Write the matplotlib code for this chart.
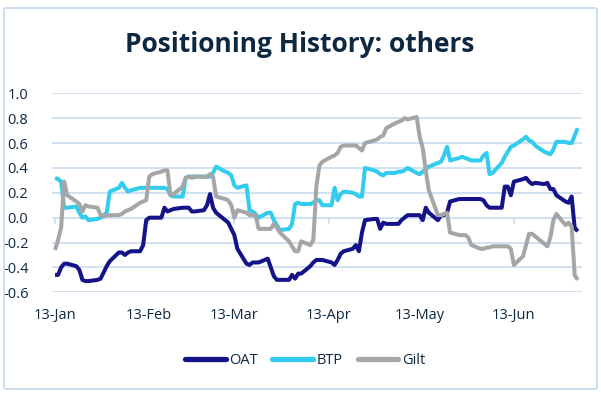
import matplotlib
matplotlib.use("Agg")
import matplotlib.pyplot as plt
from matplotlib.patches import FancyBboxPatch
import pandas as pd

# ---- data (business days, 13-Jan-2025 .. 04-Jul-2025) ----
start_date = "2025-01-13"
end_date = "2025-07-04"

oat = [
    -0.46, -0.46, -0.40, -0.37, -0.37,
    -0.39, -0.42, -0.50, -0.51, -0.51,
    -0.50, -0.49, -0.44, -0.39, -0.35,
    -0.28, -0.28, -0.30, -0.28, -0.27,
    -0.27, -0.22, -0.02, 0.00, 0.00,
    0.00, 0.08, 0.05, 0.06, 0.07,
    0.08, 0.08, 0.08, 0.05, 0.05,
    0.06, 0.10, 0.19, 0.08, 0.04,
    -0.02, -0.04, -0.09, -0.14, -0.25,
    -0.37, -0.38, -0.36, -0.36, -0.36,
    -0.33, -0.40, -0.47, -0.50, -0.50,
    -0.50, -0.46, -0.49, -0.45, -0.45,
    -0.39, -0.36, -0.34, -0.34, -0.34,
    -0.36, -0.38, -0.34, -0.29, -0.27,
    -0.25, -0.22, -0.27, -0.12, -0.02,
    -0.01, -0.01, -0.09, -0.04, -0.05,
    -0.05, -0.05, -0.02, 0.00, 0.02,
    0.02, 0.02, -0.02, 0.08, 0.04,
    -0.02, 0.02, 0.02, 0.04, 0.13,
    0.15, 0.15, 0.15, 0.15, 0.15,
    0.15, 0.14, 0.10, 0.08, 0.08,
    0.08, 0.25, 0.25, 0.18, 0.29,
    0.31, 0.32, 0.29, 0.27, 0.28,
    0.27, 0.28, 0.23, 0.23, 0.18,
    0.13, 0.12, 0.17, -0.08, -0.11,
]

btp = [
    0.32, 0.31, 0.29, 0.08, 0.08,
    0.09, 0.04, 0.00, 0.01, -0.02,
    -0.01, 0.00, 0.02, 0.04, 0.21,
    0.24, 0.28, 0.24, 0.21, 0.22,
    0.24, 0.24, 0.24, 0.24, 0.24,
    0.24, 0.24, 0.23, 0.18, 0.17,
    0.17, 0.32, 0.33, 0.33, 0.33,
    0.33, 0.33, 0.33, 0.36, 0.41,
    0.37, 0.36, 0.34, 0.26, 0.24,
    0.26, 0.06, 0.05, 0.03, 0.00,
    0.04, 0.04, -0.02, -0.06, -0.10,
    -0.09, -0.05, 0.11, 0.12, 0.11,
    0.11, 0.12, 0.14, 0.14, 0.10,
    0.10, 0.24, 0.14, 0.19, 0.21,
    0.20, 0.19, 0.17, 0.17, 0.40,
    0.38, 0.37, 0.35, 0.34, 0.36,
    0.36, 0.37, 0.37, 0.38, 0.40,
    0.36, 0.35, 0.37, 0.39, 0.41,
    0.44, 0.45, 0.50, 0.57, 0.46,
    0.48, 0.49, 0.48, 0.47, 0.46,
    0.46, 0.50, 0.52, 0.35, 0.36,
    0.44, 0.49, 0.53, 0.57, 0.58,
    0.63, 0.65, 0.62, 0.61, 0.58,
    0.53, 0.52, 0.51, 0.55, 0.61,
    0.61, 0.60, 0.60, 0.66, 0.72,
]

gilt = [
    -0.26, -0.18, -0.08, 0.29, 0.18,
    0.13, 0.11, 0.05, 0.10, 0.09,
    0.08, 0.02, 0.01, 0.02, 0.02,
    0.02, 0.03, 0.05, 0.06, 0.07,
    0.12, 0.13, 0.14, 0.33, 0.35,
    0.37, 0.38, 0.38, 0.18, 0.19,
    0.25, 0.32, 0.33, 0.32, 0.33,
    0.33, 0.33, 0.35, 0.33, 0.17,
    0.15, 0.14, 0.10, 0.00, 0.06,
    0.04, 0.02, 0.02, 0.02, -0.09,
    -0.09, -0.09, -0.05, -0.08, -0.12,
    -0.19, -0.23, -0.27, -0.27, -0.19,
    -0.22, -0.18, 0.25, 0.42, 0.45,
    0.49, 0.50, 0.52, 0.57, 0.58,
    0.58, 0.58, 0.56, 0.54, 0.60,
    0.62, 0.63, 0.65, 0.66, 0.72,
    0.76, 0.77, 0.78, 0.80, 0.79,
    0.81, 0.65, 0.56, 0.38, 0.22,
    0.02, 0.02, 0.03, 0.04, -0.12,
    -0.14, -0.14, -0.14, -0.16, -0.22,
    -0.25, -0.25, -0.24, -0.24, -0.23,
    -0.23, -0.23, -0.23, -0.25, -0.38,
    -0.31, -0.22, -0.13, -0.13, -0.15,
    -0.21, -0.23, -0.16, -0.02, 0.03,
    -0.06, -0.04, -0.07, -0.46, -0.50,
]

series_names = ["OAT", "BTP", "Gilt"]
tick_dates = ["2025-01-13", "2025-02-13", "2025-03-13",
              "2025-04-13", "2025-05-13", "2025-06-13"]
y_ticks = [-0.6, -0.4, -0.2, 0.0, 0.2, 0.4, 0.6, 0.8, 1.0]
title = "Positioning History: others"

# ---- styling ----
colors = ["#141488", "#33CCEE", "#A6A6A6"]
grid_col = "#C9DBF0"
text_col = "#0E2841"
plt.rcParams["font.family"] = ["Open Sans", "DejaVu Sans"]

dates = pd.bdate_range(start_date, end_date)

fig = plt.figure(figsize=(6.01, 3.93), dpi=100)
fig.patch.set_facecolor("white")

# outer border
border = FancyBboxPatch((4 / 601, 4 / 393), 593 / 601, 381 / 393,
                        boxstyle="round,pad=0,rounding_size=0.004",
                        transform=fig.transFigure, facecolor="none",
                        edgecolor=grid_col, linewidth=1.3)
fig.patches.append(border)

ax = fig.add_axes([52 / 601, 1 - 292.3 / 393, 530 / 601, (292.3 - 93.3) / 393])
ymin, ymax = -0.6, 1.0
ax.set_ylim(ymin, ymax)
ax.set_xlim(pd.Timestamp("2025-01-12"), pd.Timestamp("2025-07-05 10:00"))

for vals, name, c in zip([oat, btp, gilt], series_names, colors):
    ax.plot(dates, vals, color=c, lw=2.9, label=name, solid_joinstyle="round",
            solid_capstyle="butt", zorder=3)

ax.set_yticks(y_ticks)
ax.set_yticklabels([f"{v:.1f}" for v in y_ticks])
ax.grid(axis="y", color=grid_col, lw=1.2, zorder=0)
ax.grid(axis="x", visible=False)
for s in ax.spines.values():
    s.set_visible(False)

xt = [pd.Timestamp(d) for d in tick_dates]
ax.set_xticks(xt)
ax.set_xticklabels([d.strftime("%d-%b") for d in xt])
ax.tick_params(axis="x", length=0, pad=11, labelsize=10.5, labelcolor=text_col)
ax.tick_params(axis="y", length=0, pad=17, labelsize=10.5, labelcolor=text_col)

# tick marks on the zero line
zero_pos = (0 - ymin) / (ymax - ymin)
sec = ax.secondary_xaxis(zero_pos)
sec.set_xticks(xt)
sec.set_xticklabels([])
sec.tick_params(axis="x", length=4, width=1.2, color=grid_col, direction="out")
sec.spines["bottom"].set_visible(False)
sec.spines["top"].set_visible(False)

fig.text(300 / 601, 1 - 45 / 393, title, ha="center", va="center",
         fontsize=19, fontweight="bold", color=text_col)

leg = fig.legend(loc="center", bbox_to_anchor=(305 / 601, 1 - 361 / 393), ncol=3,
                 frameon=False, fontsize=10.5, handlelength=2.8, handletextpad=0.25,
                 columnspacing=1.0)
for t in leg.get_texts():
    t.set_color(text_col)
for h in leg.get_lines():
    h.set_linewidth(3.8)
    h.set_solid_capstyle("round")

fig.savefig("out.png", dpi=100, facecolor="white")
